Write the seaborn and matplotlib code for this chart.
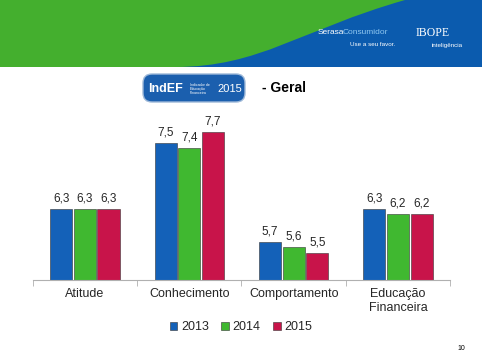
import numpy as np
import pandas as pd
import seaborn as sns
import matplotlib.pyplot as plt
from matplotlib.patches import FancyBboxPatch, PathPatch, Rectangle
from matplotlib.path import Path

categories = ["Atitude", "Conhecimento", "Comportamento", "Educação\nFinanceira"]
years = ["2013", "2014", "2015"]
v2013 = [6.3, 7.5, 5.7, 6.3]
v2014 = [6.3, 7.4, 5.6, 6.2]
v2015 = [6.3, 7.7, 5.5, 6.2]
colors = ["#1461B8", "#40B830", "#C8144A"]

df = pd.DataFrame({
    "categoria": categories * 3,
    "ano": [y for y in years for _ in categories],
    "valor": v2013 + v2014 + v2015,
})

sns.set_style("white")
plt.rcParams["font.family"] = ["Liberation Sans", "DejaVu Sans"]

fig = plt.figure(figsize=(4.82, 3.61), dpi=100)

# header banner
bg = fig.add_axes([0, 0, 1, 1], zorder=-1)
bg.set_xlim(0, 482)
bg.set_ylim(361, 0)
bg.axis("off")
bg.add_patch(Rectangle((0, 0), 482, 67, color="#44AF2E", lw=0))
verts = [(405, 0), (300, 30), (260, 67), (175, 67), (482, 67), (482, 0), (405, 0)]
codes = [Path.MOVETO, Path.CURVE4, Path.CURVE4, Path.CURVE4, Path.LINETO, Path.LINETO, Path.CLOSEPOLY]
bg.add_patch(PathPatch(Path(verts, codes), color="#0B5BAE", lw=0))
bg.text(318, 33, "Serasa", color="white", fontsize=6, va="center")
bg.text(343, 33, "Consumidor", color="#8FC7F0", fontsize=6, va="center")
bg.text(350, 44, "Use a seu favor.", color="white", fontsize=4.5, va="center")
bg.text(416, 33, "IBOPE", color="white", fontsize=8.5, va="center", family="Liberation Serif")
bg.text(432, 45, "inteligência", color="white", fontsize=4.5, va="center")

# IndEF logo
bg.add_patch(FancyBboxPatch((143, 74), 102, 28, boxstyle="round,pad=0,rounding_size=9",
                            fc="#1B5FAE", ec="#9DB8D8", lw=1))
bg.text(148, 89, "IndEF", color="white", fontsize=9, fontweight="bold", va="center")
bg.text(190, 89, "Indicador de\nEducação\nFinanceira", color="white", fontsize=2.6, va="center",
        linespacing=1.0)
bg.text(217, 89, "2015", color="white", fontsize=8, va="center")
bg.text(262, 88, "- Geral", color="black", fontsize=10, fontweight="bold", va="center")
bg.text(457, 349, "10", color="black", fontsize=5, va="center")

ax = fig.add_axes([0.068, 0.224, 0.866, 0.457])
sns.barplot(data=df, x="categoria", y="valor", hue="ano", palette=colors, saturation=1,
            width=0.68, gap=0.06, edgecolor="#333333", linewidth=0.4, ax=ax, legend=False)

for c in ax.containers:
    ax.bar_label(c, labels=[f"{v:.1f}".replace(".", ",") for v in c.datavalues],
                 padding=3, fontsize=8.5)

ax.set_ylim(5, 8)
ax.set_xlim(-0.5, 3.5)
ax.set_xlabel("")
ax.set_ylabel("")
ax.set_yticks([])
for s in ["top", "right", "left"]:
    ax.spines[s].set_visible(False)
ax.spines["bottom"].set_color("#B0B0B0")
ax.set_xticks([-0.5, 0.5, 1.5, 2.5, 3.5], minor=True)
ax.tick_params(axis="x", which="minor", length=4, color="#B0B0B0", bottom=True)
ax.tick_params(axis="x", which="major", length=0, labelsize=9, pad=6)

handles = [Rectangle((0, 0), 1, 1, fc=col, ec="#333333", lw=0.4) for col in colors]
fig.legend(handles, years, loc="center", bbox_to_anchor=(0.5, 0.094), ncol=3, frameon=False,
           fontsize=9, handlelength=0.6, handleheight=0.6, handletextpad=0.3, columnspacing=1.0)

fig.savefig("out.png", dpi=100)
